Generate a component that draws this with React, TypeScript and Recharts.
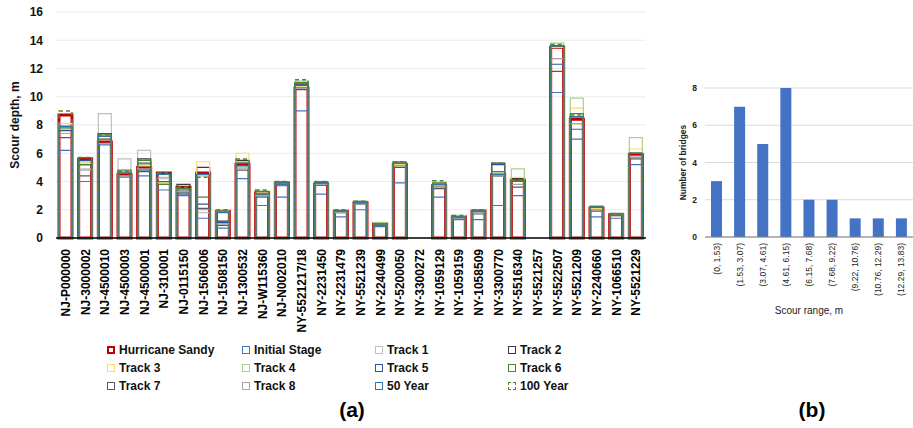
import { BarChart, Bar, XAxis, YAxis, CartesianGrid } from 'recharts';

const FONT = '"Liberation Sans", Arial, sans-serif';

const bridges = [
  'NJ-P000000', 'NJ-3000002', 'NJ-4500010', 'NJ-4500003', 'NJ-4500001', 'NJ-310001',
  'NJ-0115150', 'NJ-1506006', 'NJ-1508150', 'NJ-1300532', 'NJ-W115360', 'NJ-N002010',
  'NY-5521217/18', 'NY-2231450', 'NY-2231479', 'NY-5521239', 'NY-2240499', 'NY-5200050',
  'NY-3300272', 'NY-1059129', 'NY-1059159', 'NY-1058509', 'NY-3300770', 'NY-5516340',
  'NY-5521257', 'NY-5522507', 'NY-5521209', 'NY-2240660', 'NY-1066510', 'NY-5521229',
];

const hurricaneSandy = [8.7, 5.6, 6.8, 4.5, 5.0, 4.6, 3.6, 4.6, 1.9, 5.2, 3.2, 3.9, 10.6, 3.8, 1.9, 2.5, 1.0, 5.2, null, 3.7, 1.5, 1.9, 4.5, 4.1, null, 13.5, 8.4, 2.1, 1.65, 5.9];
const initialStage = [6.2, 4.0, 6.6, 4.3, 4.4, 3.4, 3.0, 1.4, 0.7, 4.2, 2.3, 2.9, 9.0, 3.1, 1.5, 2.0, 0.8, 3.9, null, 2.9, 1.3, 1.3, 2.3, 3.0, null, 10.3, 7.0, 1.5, 1.4, 5.2];
const track1 = [7.7, 4.9, 8.8, 5.6, 6.2, 4.2, 3.3, 1.8, 1.0, 5.0, 3.1, 3.8, 10.8, 3.9, 1.8, 2.5, 0.9, 5.1, null, 3.6, 1.5, 1.8, 4.4, 4.0, null, 12.7, 8.1, 2.0, 1.6, 5.8];
const track2 = [7.9, 5.2, 7.4, 4.7, 5.6, 4.6, 3.8, 5.0, 1.2, 5.5, 3.2, 3.9, 10.9, 3.9, 1.9, 2.5, 1.0, 5.2, null, 3.8, 1.5, 1.9, 5.3, 4.2, null, 13.6, 8.6, 2.2, 1.7, 6.0];
const track3 = [8.1, 5.3, 7.0, 4.6, 5.1, 3.9, 3.5, 5.4, 2.0, 6.0, 3.2, 3.9, 10.7, 3.8, 1.9, 2.5, 1.0, 5.2, null, 3.7, 1.5, 1.9, 4.6, 4.3, null, 13.5, 9.2, 2.1, 1.65, 6.3];
const track4 = [7.8, 5.4, 7.2, 4.7, 5.2, 3.9, 3.5, 4.4, 1.9, 5.4, 3.3, 4.0, 11.1, 4.0, 2.0, 2.6, 1.1, 5.3, null, 3.9, 1.6, 2.0, 4.7, 4.9, null, 13.8, 9.9, 2.3, 1.7, 7.1];
const track5 = [7.6, 5.5, 7.4, 4.6, 5.3, 4.5, 3.4, 2.4, 1.1, 5.3, 3.1, 3.9, 10.9, 3.9, 1.9, 2.5, 1.0, 5.3, null, 3.8, 1.5, 1.9, 5.2, 4.0, null, 12.3, 8.6, 2.2, 1.7, 6.0];
const track6 = [7.8, 5.2, 7.3, 4.8, 5.5, 3.8, 3.5, 2.9, 1.9, 5.3, 3.3, 4.0, 11.0, 4.0, 1.9, 2.6, 1.0, 5.3, null, 3.9, 1.5, 2.0, 4.7, 4.1, null, 13.6, 8.8, 2.2, 1.75, 6.0];
const track7 = [7.1, 4.4, 7.0, 4.4, 4.7, 4.0, 3.2, 2.1, 0.9, 4.8, 3.0, 3.7, 10.5, 3.8, 1.8, 2.4, 0.9, 5.0, null, 3.5, 1.4, 1.7, 4.4, 3.6, null, 11.8, 7.7, 1.9, 1.6, 5.6];
const track8 = [7.4, 4.8, 6.7, 4.4, 4.9, 4.3, 3.3, 2.0, 1.0, 4.9, 3.0, 3.8, 10.6, 3.8, 1.8, 2.4, 0.9, 5.1, null, 3.6, 1.4, 1.8, 4.4, 3.8, null, 12.7, 8.1, 2.0, 1.6, 5.7];
const year50 = [7.9, 5.7, 7.2, 4.6, 4.8, 4.5, 3.1, 4.5, 1.8, 5.1, 2.9, 3.8, 10.8, 3.9, 1.9, 2.5, 0.9, 5.4, null, 3.8, 1.5, 1.9, 4.5, 4.0, null, 13.6, 8.6, 2.2, 1.6, 6.0];
const year100 = [9.0, 5.7, 7.3, 4.7, 5.5, 4.6, 3.6, 4.3, 2.0, 5.6, 3.4, 4.0, 11.2, 4.0, 2.0, 2.6, 1.0, 5.4, null, 4.05, 1.6, 2.0, 5.3, 4.1, null, 13.7, 8.7, 2.2, 1.7, 6.0];

const yTicks = [0, 2, 4, 6, 8, 10, 12, 14, 16];

const scourRanges = [
  '(0, 1.53)', '(1.53, 3.07)', '(3.07, 4.61)', '(4.61, 6.15)', '(6.15, 7.68)',
  '(7.68, 9.22)', '(9.22, 10.76)', '(10.76, 12.29)', '(12.29, 13.83)',
];
const bridgeCounts = [3, 7, 5, 8, 2, 2, 1, 1, 1];
const countTicks = [0, 2, 4, 6, 8];

const seriesList = [
  { key: 'sandy', name: 'Hurricane Sandy', values: hurricaneSandy, color: '#C00000', width: 3, dash: undefined },
  { key: 'initial', name: 'Initial Stage', values: initialStage, color: '#4472C4', width: 1.2, dash: undefined },
  { key: 't1', name: 'Track 1', values: track1, color: '#BFBFBF', width: 1.2, dash: undefined },
  { key: 't2', name: 'Track 2', values: track2, color: '#3A3A3A', width: 1.2, dash: undefined },
  { key: 't3', name: 'Track 3', values: track3, color: '#FFD966', width: 1.2, dash: undefined },
  { key: 't4', name: 'Track 4', values: track4, color: '#A9D18E', width: 1.2, dash: undefined },
  { key: 't5', name: 'Track 5', values: track5, color: '#2F5597', width: 1.2, dash: undefined },
  { key: 't6', name: 'Track 6', values: track6, color: '#548235', width: 1.2, dash: undefined },
  { key: 't7', name: 'Track 7', values: track7, color: '#595959', width: 1.2, dash: undefined },
  { key: 't8', name: 'Track 8', values: track8, color: '#A6A6A6', width: 1.2, dash: undefined },
  { key: 'y50', name: '50 Year', values: year50, color: '#2E75B6', width: 1.2, dash: undefined },
  { key: 'y100', name: '100 Year', values: year100, color: '#548235', width: 1.5, dash: '4 3' },
];

const chartData = bridges.map((name, i) => {
  const row: Record<string, any> = { name };
  seriesList.forEach((s) => { row[s.key] = s.values[i]; });
  return row;
});

const rangeData = scourRanges.map((range, i) => ({ range, count: bridgeCounts[i] }));

const BridgeTick = (props: any) => {
  const { x, y, payload } = props;
  const ty = y + 3;
  return (
    <text
      x={x}
      y={ty}
      dy="0.35em"
      transform={`rotate(-90, ${x}, ${ty})`}
      textAnchor="end"
      fontSize={12}
      fontWeight="bold"
      fontFamily={FONT}
      fill="#000"
    >
      {payload.value}
    </text>
  );
};

const RangeTick = (props: any) => {
  const { x, y, payload } = props;
  const ty = y - 2;
  return (
    <text
      x={x}
      y={ty}
      dy="0.35em"
      transform={`rotate(-90, ${x}, ${ty})`}
      textAnchor="end"
      fontSize={8.5}
      fontFamily={FONT}
      fill="#222"
    >
      {payload.value}
    </text>
  );
};

const LegendMarker = ({ color, width, dash }: { color: string; width: number; dash?: string }) => (
  <span
    style={{
      display: 'inline-block',
      width: 8,
      height: 8,
      boxSizing: 'border-box',
      border: `${width >= 3 ? 2.5 : 1.3}px ${dash ? 'dashed' : 'solid'} ${color}`,
      marginRight: 4,
      verticalAlign: 'middle',
    }}
  />
);

export default function App() {
  return (
    <div style={{ position: 'absolute', left: 0, top: 0, width: 913, height: 428, background: '#fff', fontFamily: FONT }}>
      <div style={{ position: 'absolute', left: 0, top: 0 }}>
        <BarChart
          width={660}
          height={340}
          data={chartData}
          margin={{ top: 12, right: 14, left: 0, bottom: 0 }}
          barSize={13}
          barGap={-13}
        >
          <CartesianGrid vertical={false} stroke="#EBEBEB" />
          <XAxis
            dataKey="name"
            interval={0}
            height={102}
            tickLine={false}
            tick={<BridgeTick />}
            axisLine={{ stroke: '#000', strokeWidth: 1.5 }}
          />
          <YAxis
            width={56}
            domain={[0, 16]}
            ticks={yTicks}
            tickLine={false}
            axisLine={false}
            tickMargin={7}
            tick={{ fontSize: 12, fontWeight: 'bold', fill: '#111', fontFamily: FONT }}
            label={{ value: 'Scour depth, m', angle: -90, position: 'insideLeft', offset: 15, style: { fontSize: 12, fontWeight: 'bold', fill: '#111', fontFamily: FONT, textAnchor: 'middle' } }}
          />
          {seriesList.map((s) => (
            <Bar
              key={s.key}
              dataKey={s.key}
              name={s.name}
              fill="none"
              stroke={s.color}
              strokeWidth={s.width}
              strokeDasharray={s.dash}
              barSize={13}
              isAnimationActive={false}
            />
          ))}
        </BarChart>
      </div>

      <div
        style={{
          position: 'absolute',
          left: 107,
          top: 341,
          display: 'grid',
          gridTemplateColumns: '135px 133px 133px 134px',
          gridAutoRows: '18px',
          fontSize: 12,
          fontWeight: 'bold',
          color: '#111',
        }}
      >
        {seriesList.map((s) => (
          <div key={s.key} style={{ display: 'flex', alignItems: 'center', whiteSpace: 'nowrap' }}>
            <LegendMarker color={s.color} width={s.width} dash={s.dash} />
            {s.name}
          </div>
        ))}
      </div>

      <div style={{ position: 'absolute', left: 320, top: 398, width: 64, textAlign: 'center', fontSize: 21, fontWeight: 'bold', color: '#000' }}>
        (a)
      </div>

      <div style={{ position: 'absolute', left: 676, top: 80 }}>
        <BarChart
          width={240}
          height={245}
          data={rangeData}
          margin={{ top: 8, right: 3, left: 0, bottom: 0 }}
          barCategoryGap="26%"
        >
          <CartesianGrid vertical={false} stroke="#D9D9D9" />
          <XAxis
            dataKey="range"
            interval={0}
            height={88}
            tickLine={false}
            tick={<RangeTick />}
            axisLine={{ stroke: '#7F7F7F', strokeWidth: 1.2 }}
            label={{ value: 'Scour range, m', position: 'insideBottom', offset: 11, style: { fontSize: 10, fill: '#222', fontFamily: FONT } }}
          />
          <YAxis
            width={29}
            domain={[0, 8]}
            ticks={countTicks}
            tickLine={false}
            axisLine={false}
            tick={{ fontSize: 8.5, fontWeight: 'bold', fill: '#222', fontFamily: FONT }}
            label={{ value: 'Number of bridges', angle: -90, position: 'insideLeft', offset: 7, style: { fontSize: 8.5, fontWeight: 'bold', fill: '#222', fontFamily: FONT, textAnchor: 'middle' } }}
          />
          <Bar dataKey="count" fill="#4472C4" isAnimationActive={false} />
        </BarChart>
      </div>

      <div style={{ position: 'absolute', left: 780, top: 398, width: 64, textAlign: 'center', fontSize: 21, fontWeight: 'bold', color: '#000' }}>
        (b)
      </div>
    </div>
  );
}
